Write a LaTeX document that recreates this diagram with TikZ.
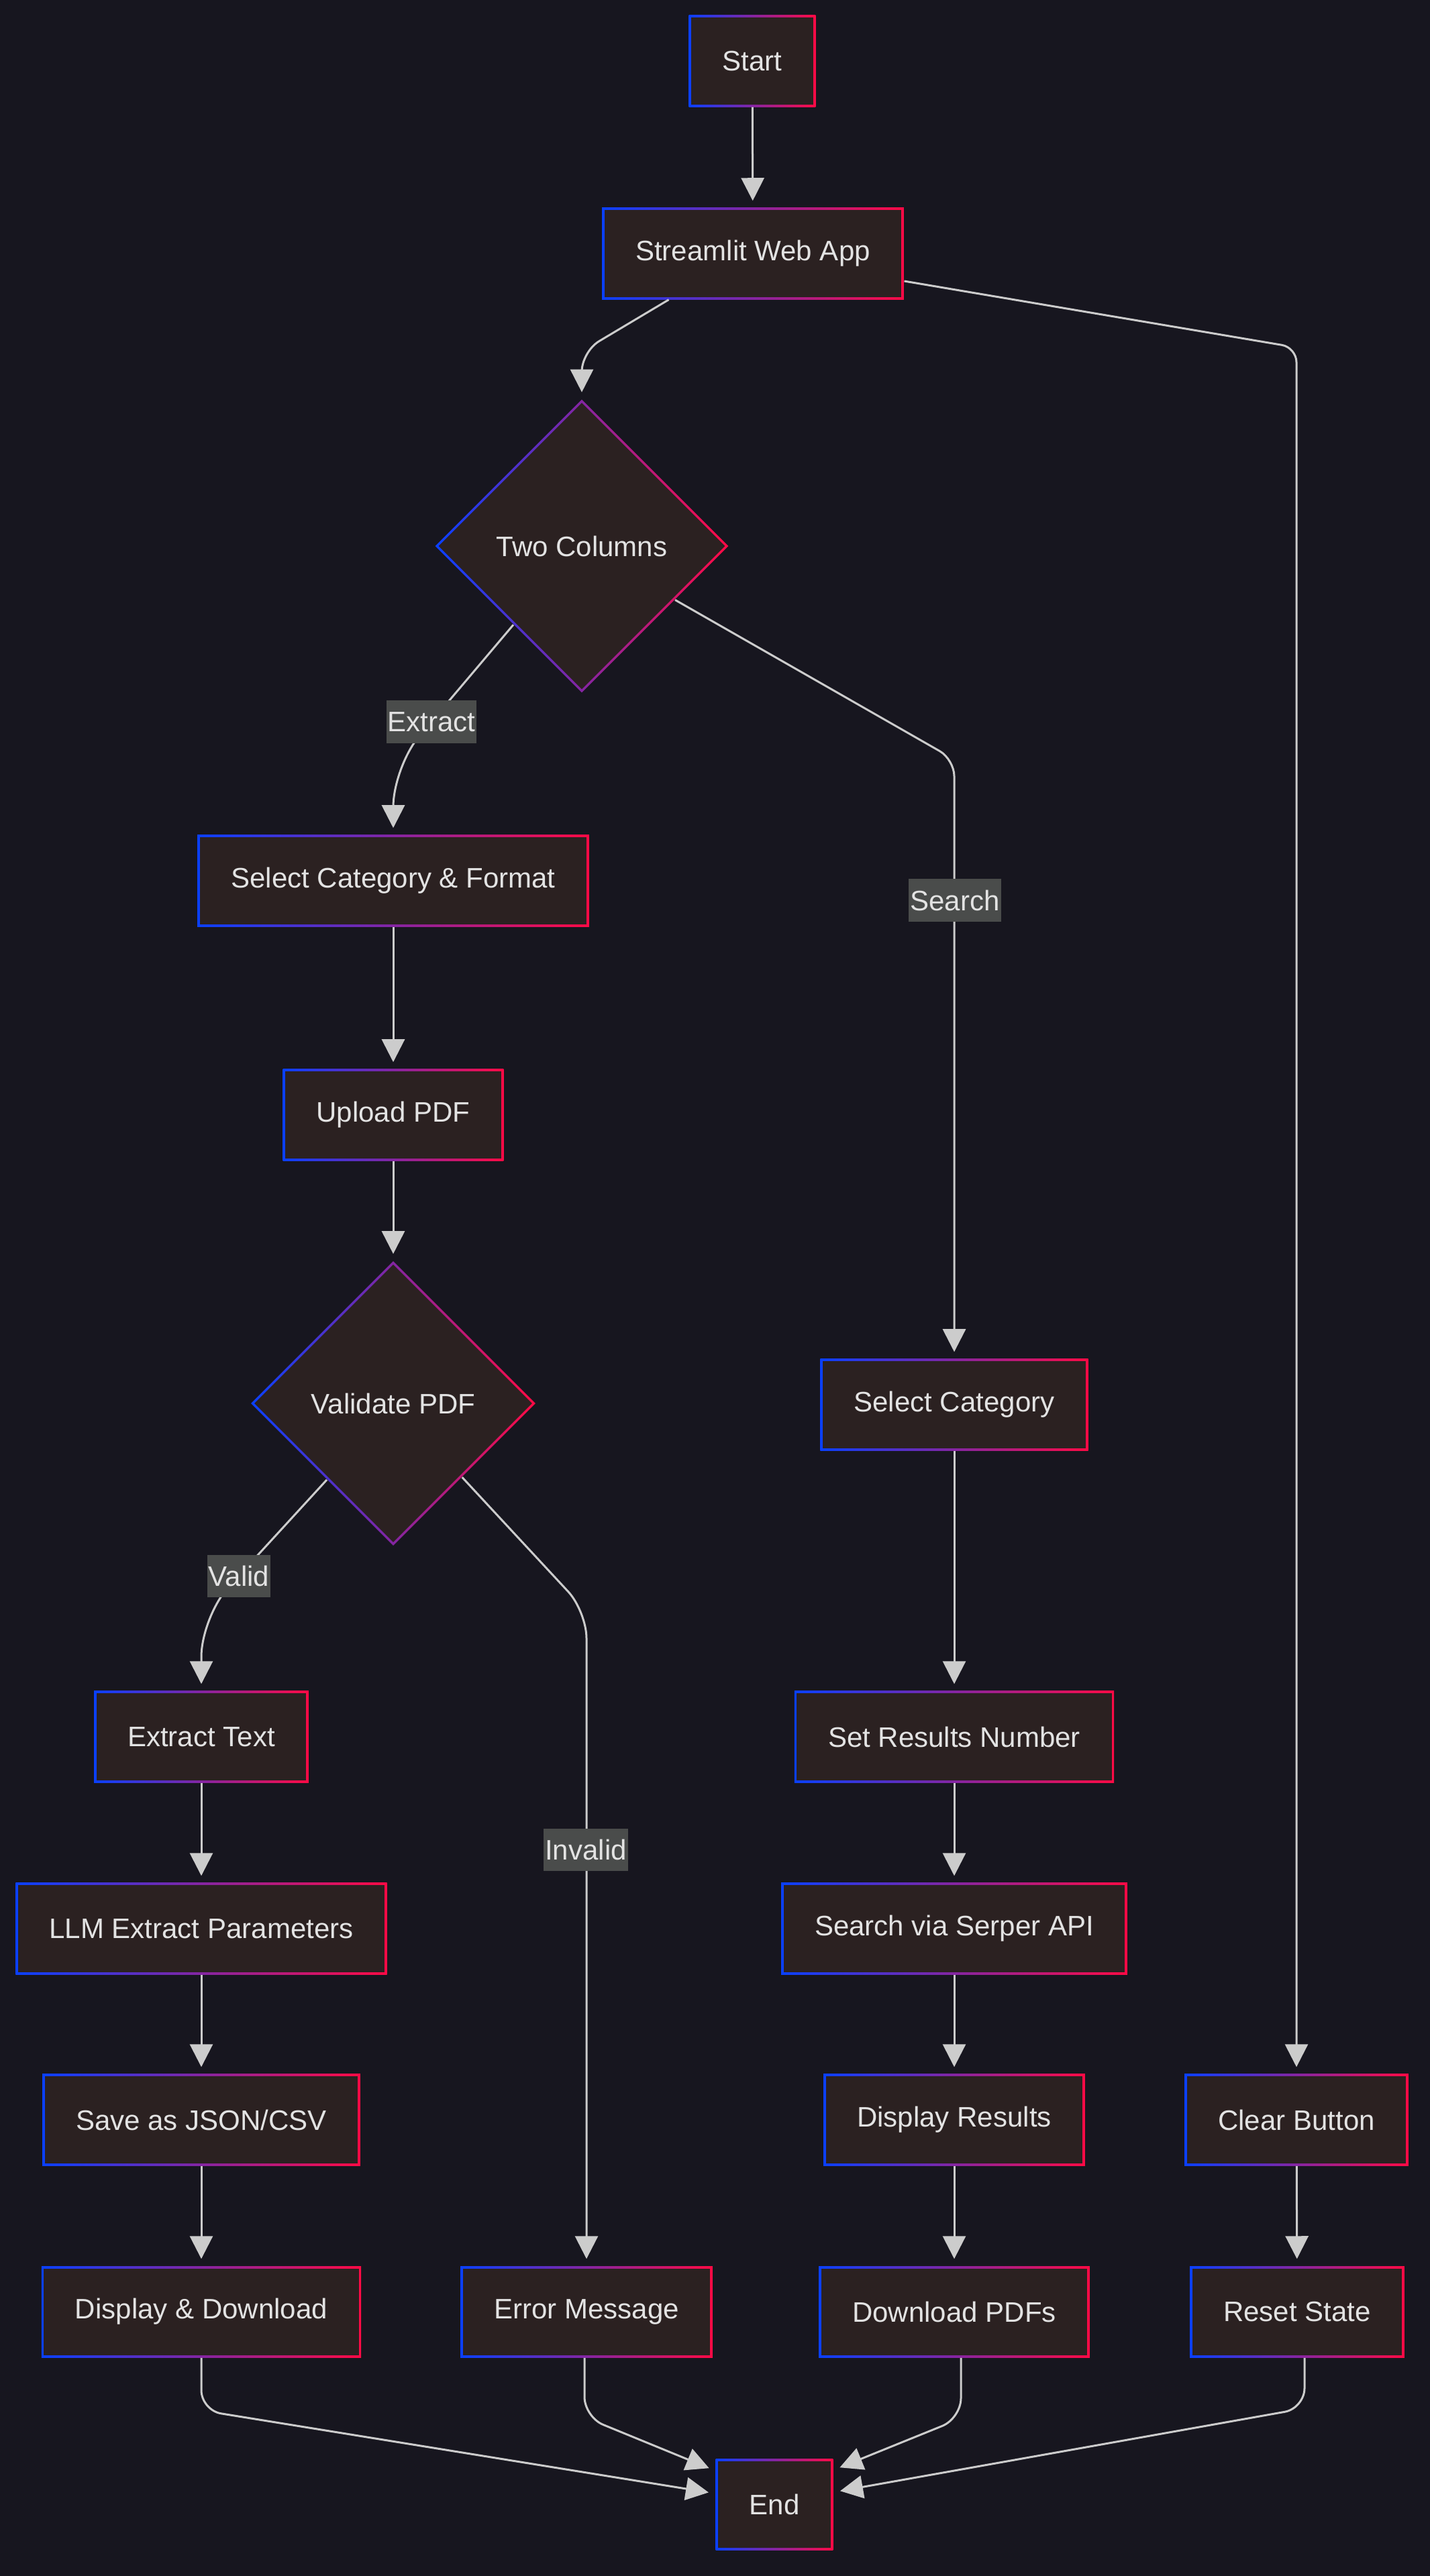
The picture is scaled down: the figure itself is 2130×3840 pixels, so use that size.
\documentclass[tikz,border=0pt]{standalone}
\usepackage{fontspec}
\setmainfont{Liberation Sans}
\usetikzlibrary{arrows.meta,shapes.geometric}
\definecolor{bgcol}{HTML}{17161F}
\definecolor{nodefill}{HTML}{2B2121}
\definecolor{gblue}{HTML}{0A40FF}
\definecolor{gred}{HTML}{FF0A45}
\definecolor{lblfill}{HTML}{4A4C4B}
\definecolor{txt}{HTML}{E3E3E3}
\definecolor{edgecol}{HTML}{CCCCCC}
\newcommand\boxfont{\fontsize{11.95}{14}\selectfont}
\tikzset{
    gbox/.style={rectangle, fill=nodefill, text=txt, font=\boxfont,
        minimum height=1.36cm, inner xsep=0.5cm,
        path picture={
            \shade[left color=gblue, right color=gred]
                (path picture bounding box.south west) rectangle (path picture bounding box.north east);
            \fill[nodefill]
                ([shift={(0.035cm,0.035cm)}]path picture bounding box.south west) rectangle
                ([shift={(-0.035cm,-0.035cm)}]path picture bounding box.north east);
        }},
    gdia/.style={diamond, aspect=1, inner sep=0pt, minimum size=#1,
        fill=nodefill, text=txt, font=\boxfont,
        path picture={
            \shade[left color=gblue, right color=gred]
                (path picture bounding box.south west) rectangle (path picture bounding box.north east);
            \fill[nodefill]
                ([xshift=0.05cm]path picture bounding box.west) --
                ([yshift=-0.05cm]path picture bounding box.north) --
                ([xshift=-0.05cm]path picture bounding box.east) --
                ([yshift=0.05cm]path picture bounding box.south) -- cycle;
        }},
    lbl/.style={rectangle, fill=lblfill, text=txt, font=\boxfont,
        inner xsep=0.02cm, inner ysep=0pt, minimum height=0.63cm},
    arr/.style={draw=edgecol, line width=0.03cm,
        -{Triangle[length=0.34cm,width=0.34cm]}, shorten >=0.1cm}
}
\begin{document}
\begin{tikzpicture}[x=0.01cm,y=-0.01cm]
    \useasboundingbox (0,0) rectangle (2130,3840);
    \fill[bgcol] (-20,-20) rectangle (2150,3860);

    \node[gbox] (start) at (1121,91) {Start};
    \node[gbox] (web) at (1122,378) {Streamlit Web App};
    \node[gdia=4.37cm] (cols) at (867,814) {Two Columns};
    \node[gbox] (selfmt) at (586,1313) {Select Category \& Format};
    \node[gbox] (upload) at (586,1662) {Upload PDF};
    \node[gdia=4.24cm] (valid) at (586,2092) {Validate PDF};
    \node[gbox] (selcat) at (1422,2094) {Select Category};
    \node[gbox] (extract) at (300,2589) {Extract Text};
    \node[gbox] (setnum) at (1422,2589) {Set Results Number};
    \node[gbox] (llm) at (300,2875) {LLM Extract Parameters};
    \node[gbox] (serper) at (1422,2875) {Search via Serper API};
    \node[gbox] (save) at (300,3160) {Save as JSON/CSV};
    \node[gbox] (results) at (1422,3160) {Display Results};
    \node[gbox] (clear) at (1932,3160) {Clear Button};
    \node[gbox] (dispdl) at (300,3446) {Display \& Download};
    \node[gbox] (errmsg) at (874,3446) {Error Message};
    \node[gbox] (dlpdf) at (1422,3446) {Download PDFs};
    \node[gbox] (reset) at (1933,3446) {Reset State};
    \node[gbox] (end) at (1154,3733) {End};

    \draw[arr] (start) -- (web);
    \draw[arr, rounded corners=0.3cm] ([xshift=1cm]web.south west) -- (867,524) -- (cols.north);
    \draw[arr, rounded corners=0.22cm] ([yshift=-0.41cm]web.east) -- (1932,518) -- (clear.north);
    \draw[arr, rounded corners=0.6cm] (cols.-131) -- (586,1143) -- (selfmt.north);
    \draw[arr, rounded corners=0.25cm] (cols.-30) -- (1422,1132) -- (selcat.north);
    \draw[arr] (selfmt) -- (upload);
    \draw[arr] (upload) -- (valid);
    \draw[arr, rounded corners=0.6cm] (valid.-131) -- (300,2410) -- (extract.north);
    \draw[arr, rounded corners=0.4cm] (valid.-47) -- (874,2402) -- (errmsg.north);
    \draw[arr] (selcat) -- (setnum);
    \draw[arr] (setnum) -- (serper);
    \draw[arr] (serper) -- (results);
    \draw[arr] (results) -- (dlpdf);
    \draw[arr] (extract) -- (llm);
    \draw[arr] (llm) -- (save);
    \draw[arr] (save) -- (dispdl);
    \draw[arr] (clear) -- (reset);
    \draw[arr, rounded corners=0.3cm] (dispdl.south) -- (300,3593) -- ([yshift=0.16cm]end.west);
    \draw[arr, rounded corners=0.3cm] ([xshift=-0.03cm]errmsg.south) -- (871,3603) -- ([yshift=0.5cm]end.west);
    \draw[arr, rounded corners=0.3cm] ([xshift=0.1cm]dlpdf.south) -- (1432,3605) -- ([yshift=0.51cm]end.east);
    \draw[arr, rounded corners=0.3cm] ([xshift=0.11cm]reset.south) -- (1944,3590) -- ([yshift=0.18cm]end.east);

    \node[lbl] (lextract) at (643,1076) {Extract};
    \node[lbl] (lsearch) at (1423,1342) {Search};
    \node[lbl] (lvalid) at (356,2349) {Valid};
    \node[lbl] (linvalid) at (873,2757) {Invalid};
\end{tikzpicture}
\end{document}
